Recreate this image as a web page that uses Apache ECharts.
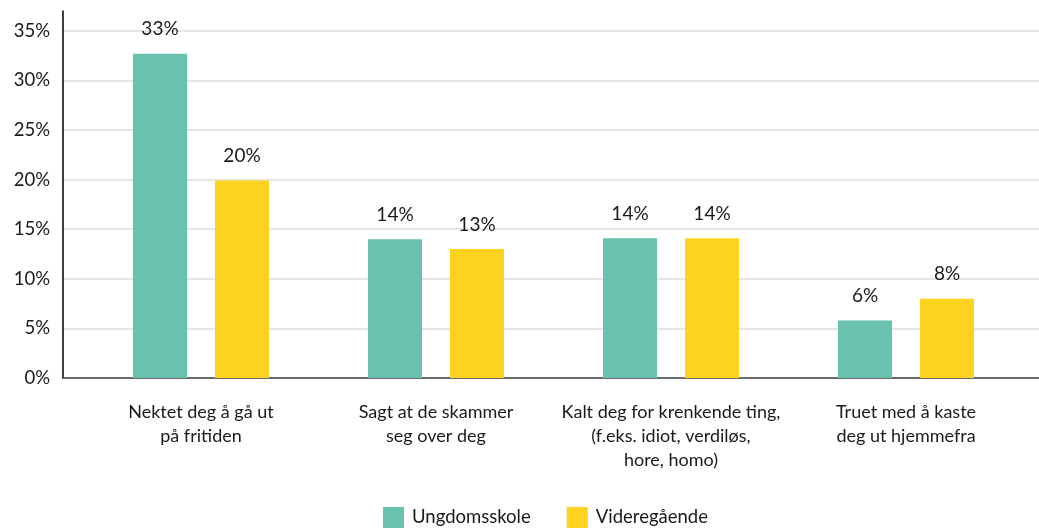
<!DOCTYPE html>
<html>
<head>
<meta charset="utf-8">
<script src="https://cdn.jsdelivr.net/npm/echarts@6/dist/echarts.min.js"></script>
<style>
html,body{margin:0;padding:0;background:#fff;}
#chart{width:1039px;height:528px;}
</style>
</head>
<body>
<div id="chart"></div>
<script>
const categories = [
  'Nektet deg å gå ut\npå fritiden',
  'Sagt at de skammer\nseg over deg',
  'Kalt deg for krenkende ting,\n(f.eks. idiot, verdiløs,\nhore, homo)',
  'Truet med å kaste\ndeg ut hjemmefra'
];
const seriesNames = ['Ungdomsskole', 'Videregående'];
const ungdomsskole = [32.7, 14.0, 14.1, 5.8];
const videregaende = [19.9, 13.0, 14.1, 8.0];
const yTicks = [0, 5, 10, 15, 20, 25, 30, 35];

const FONT = 'Lato, "Noto Sans", sans-serif';
const TXT = '#1a1a1a';
const colors = ['#6AC1AD', '#FDD31F'];

const chart = echarts.init(document.getElementById('chart'));
const labelCfg = {
  show: true,
  position: 'top',
  distance: 15,
  color: TXT,
  fontFamily: FONT,
  fontSize: 19,
  formatter: p => Math.round(p.value) + '%'
};
chart.setOption({
  animation: false,
  color: colors,
  grid: [
    {left: 63, right: 0, top: 11, bottom: 150},
    {left: 83.5, right: 15.5, top: 11, bottom: 150}
  ],
  legend: {
    left: 378,
    top: 502,
    itemWidth: 21,
    itemHeight: 21,
    itemGap: 36,
    icon: 'rect',
    data: seriesNames,
    textStyle: {color: TXT, fontFamily: FONT, fontSize: 18.5, padding: [0, 0, 0, 3]}
  },
  xAxis: [
    {
      gridIndex: 0, type: 'value', min: 0, max: 1,
      axisLine: {show: true, onZero: false, lineStyle: {color: '#444', width: 1.5}},
      axisTick: {show: false}, axisLabel: {show: false}, splitLine: {show: false}
    },
    {
      gridIndex: 1, type: 'category', data: categories,
      axisLine: {show: false}, axisTick: {show: false},
      axisLabel: {color: TXT, fontFamily: FONT, fontSize: 18, lineHeight: 24, margin: 22, interval: 0}
    }
  ],
  yAxis: [
    {
      gridIndex: 0, type: 'value', min: yTicks[0], max: 37, interval: 5,
      axisLine: {show: true, lineStyle: {color: '#000', width: 1.5}},
      axisTick: {show: false},
      axisLabel: {
        color: TXT, fontFamily: FONT, fontSize: 18.5, margin: 13,
        showMaxLabel: false,
        formatter: v => yTicks.includes(v) ? v + '%' : ''
      },
      splitLine: {show: true, showMaxLine: false, lineStyle: {color: '#dcdcdc', width: 1.5}}
    },
    {
      gridIndex: 1, type: 'value', min: yTicks[0], max: 37, show: false,
      splitLine: {show: false}
    }
  ],
  series: [
    {
      name: seriesNames[0], type: 'bar', xAxisIndex: 1, yAxisIndex: 1,
      data: ungdomsskole, barWidth: 54, barGap: '51.85%', label: labelCfg
    },
    {
      name: seriesNames[1], type: 'bar', xAxisIndex: 1, yAxisIndex: 1,
      data: videregaende, barWidth: 54, barGap: '51.85%', label: labelCfg
    }
  ]
});
</script>
</body>
</html>
